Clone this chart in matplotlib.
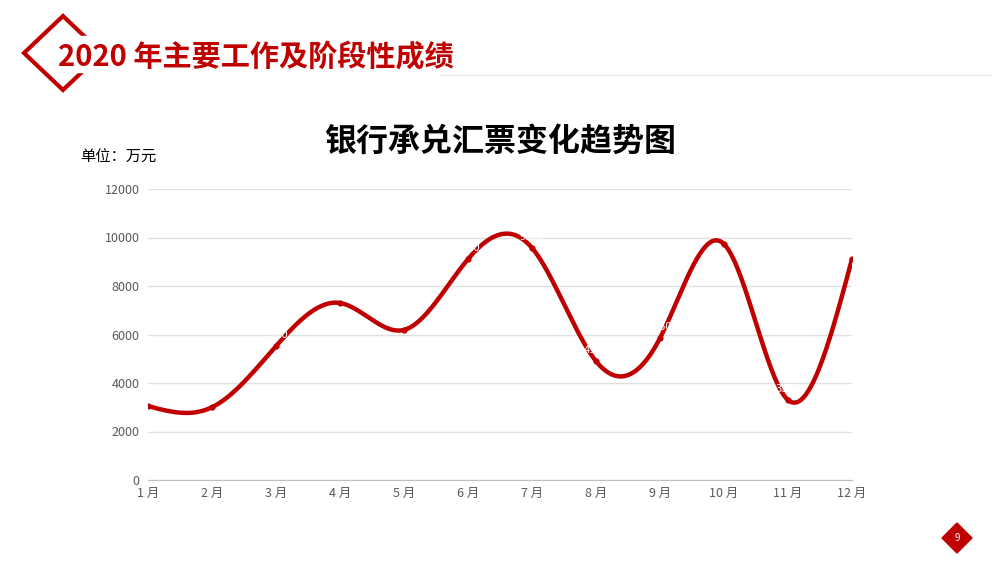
import numpy as np
import matplotlib
matplotlib.use("Agg")
import matplotlib.pyplot as plt
from matplotlib.patches import Polygon

plt.rcParams['font.family'] = ['Noto Sans CJK SC', 'DejaVu Sans']

months = ["1 月", "2 月", "3 月", "4 月", "5 月", "6 月", "7 月", "8 月", "9 月", "10 月", "11 月", "12 月"]
values = [3050, 3000, 5520, 7300, 6190, 9110, 9570, 4900, 5850, 9730, 3300, 9110]
yticks = [0, 2000, 4000, 6000, 8000, 10000, 12000]

def natural_spline(x, y, xs):
    x = np.asarray(x, float); y = np.asarray(y, float)
    n = len(x); h = np.diff(x)
    A = np.zeros((n, n)); b = np.zeros(n)
    A[0, 0] = A[-1, -1] = 1
    for i in range(1, n - 1):
        A[i, i-1] = h[i-1]; A[i, i] = 2*(h[i-1]+h[i]); A[i, i+1] = h[i]
        b[i] = 3*((y[i+1]-y[i])/h[i] - (y[i]-y[i-1])/h[i-1])
    c = np.linalg.solve(A, b)
    out = np.empty_like(xs)
    for k, t in enumerate(xs):
        i = min(np.searchsorted(x, t, side='right') - 1, n - 2)
        d = t - x[i]
        bb = (y[i+1]-y[i])/h[i] - h[i]*(2*c[i]+c[i+1])/3
        dd = (c[i+1]-c[i])/(3*h[i])
        out[k] = y[i] + bb*d + c[i]*d*d + dd*d**3
    return out

fig = plt.figure(figsize=(10, 5.63), dpi=100)
fig.patch.set_facecolor('white')

fig.add_artist(Polygon([[24/1000, 1-53/563], [63/1000, 1-16/563], [102/1000, 1-53/563], [63/1000, 1-90/563]],
                       closed=True, fill=False, edgecolor='#c00000', linewidth=3, transform=fig.transFigure))
fig.add_artist(plt.Rectangle((50/1000, 1-72/563), 60/1000, 36/563, color='white', transform=fig.transFigure))
fig.text(58/1000, 1-57/563, "2020 年主要工作及阶段性成绩", color='#c00000', fontsize=21, fontweight='bold', va='center', ha='left')
fig.add_artist(plt.Line2D([440/1000, 0.99], [1-75/563, 1-75/563], color='#eeeeee', linewidth=1, transform=fig.transFigure))

fig.text(0.5, 1-142/563, "银行承兑汇票变化趋势图", fontsize=23, fontweight='bold', ha='center', va='center', color='black')
fig.text(80/1000, 1-157/563, "单位：万元", fontsize=11, ha='left', va='center', color='black')

fig.add_artist(Polygon([[942/1000, 1-538/563], [957/1000, 1-523/563], [972/1000, 1-538/563], [957/1000, 1-553/563]],
                       closed=True, color='#c00000', transform=fig.transFigure))
fig.text(957/1000, 1-538/563, "9", color='white', fontsize=7, ha='center', va='center')

ax = fig.add_axes([0.148, 83/563, 0.704, 291/563])
x = np.arange(len(months))
xs = np.linspace(0, len(months)-1, 600)
ax.plot(xs, natural_spline(x, values, xs), color='#c00000', linewidth=3.2, solid_capstyle='round')
ax.scatter(x, values, color='#c00000', s=12, zorder=3)
for xi, v in zip(x, values):
    ax.text(xi, v + 250, str(v), color='white', fontsize=8, ha='center', va='bottom')

ax.set_xlim(0, len(months)-1)
ax.set_ylim(0, 12000)
ax.set_yticks(yticks)
ax.set_xticks(x)
ax.set_xticklabels(months)
ax.grid(axis='y', color='#e0e0e0', linewidth=1)
ax.set_axisbelow(True)
for s in ['top', 'right', 'left']:
    ax.spines[s].set_visible(False)
ax.spines['bottom'].set_color('#bfbfbf')
ax.tick_params(axis='both', length=0, labelsize=9, colors='#595959')
ax.tick_params(axis='x', pad=5)
ax.tick_params(axis='y', pad=6)

fig.savefig('out.png', dpi=100)
